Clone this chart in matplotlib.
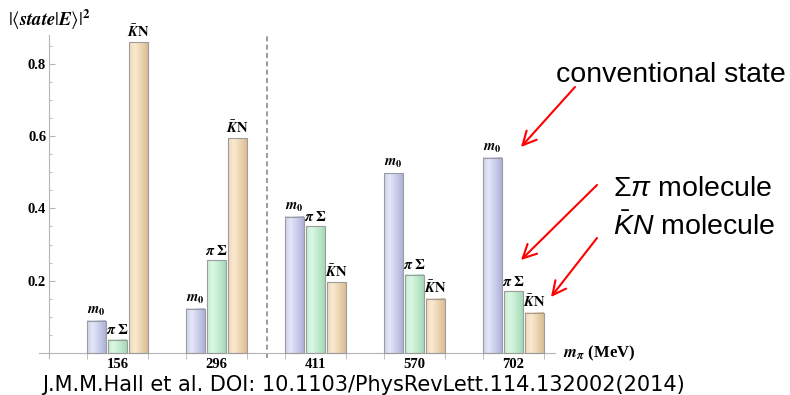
import matplotlib.pyplot as plt
import numpy as np
from matplotlib.patches import Rectangle, FancyArrowPatch
from matplotlib.ticker import MultipleLocator

plt.rcParams['mathtext.fontset'] = 'custom'
plt.rcParams['mathtext.rm'] = 'Liberation Sans'
plt.rcParams['mathtext.it'] = 'Liberation Sans:italic'

# weights |<state|E>|^2 for each pion mass
mpi = ['156', '296', '411', '570', '702']
m0 = [0.089, 0.122, 0.377, 0.498, 0.540]
pi_sigma = [0.037, 0.256, 0.351, 0.217, 0.171]
kbar_n = [0.860, 0.594, 0.196, 0.150, 0.111]

bar_labels = [r'$\mathbfit{m}_{\mathbf{0}}$',
              r'$\mathbfit{\pi}\ \mathbf{\Sigma}$',
              r'$\bar{\mathbfit{K}}\mathbf{N}$']
# (dark, light) colours for the shaded bars
bar_colors = [((168, 172, 214), (228, 230, 249)),
              ((158, 214, 178), (218, 248, 228)),
              ((214, 184, 140), (251, 234, 208))]

gray = '#b4b4b4'
serif_bold = dict(fontfamily='Liberation Serif', fontweight='bold')


def gradient(dark, light, n=64):
    t = np.linspace(0, 1, n)
    f = np.clip(1 - np.abs(t - 0.3) / 0.75, 0, 1) ** 0.9
    dark = np.array(dark) / 255
    light = np.array(light) / 255
    return (dark[None, :] * (1 - f[:, None]) + light[None, :] * f[:, None])[None, :, :]


fig = plt.figure(figsize=(7.9, 3.95), dpi=100)
ax = fig.add_axes([49 / 790, 37 / 395, 506 / 790, 323 / 395])

x = np.arange(len(mpi))
width = 0.19
step = 0.212
for k, vals in enumerate([m0, pi_sigma, kbar_n]):
    grad = gradient(*bar_colors[k])
    for xi, v in zip(x, vals):
        x0 = xi + (k - 1) * step - width / 2
        ax.imshow(grad, extent=[x0, x0 + width, 0, v], aspect='auto',
                  interpolation='bilinear', zorder=2)
        ax.add_patch(Rectangle((x0, 0), width, v, fill=False,
                               edgecolor='#9c9c9c', lw=0.8, zorder=3))
        ax.text(x0 + width / 2, v + 0.007, bar_labels[k], ha='center',
                va='bottom', fontsize=10.5, math_fontfamily='stix')

ax.set_xlim(-0.69, 4.42)
ax.set_ylim(-0.014, 0.88)

# axes in the Mathematica style
for s in ['top', 'right']:
    ax.spines[s].set_visible(False)
ax.spines['bottom'].set_position(('data', 0))
for s in ['bottom', 'left']:
    ax.spines[s].set_color(gray)
    ax.spines[s].set_linewidth(0.8)
ax.plot([-0.79, -0.69], [0, 0], color=gray, lw=0.8, clip_on=False)

ax.set_xticks(x)
ax.set_xticklabels(mpi, fontsize=10.5, **serif_bold)
edges = np.concatenate([x - step - width / 2, x + step + width / 2])
ax.set_xticks(edges, minor=True)
ax.tick_params(axis='x', which='major', length=0, pad=4)
ax.tick_params(axis='x', which='minor', length=4, direction='out', color=gray)

ax.set_yticks([0.2, 0.4, 0.6, 0.8])
ax.set_yticklabels(['0.2', '0.4', '0.6', '0.8'], fontsize=10.5, **serif_bold)
ax.yaxis.set_minor_locator(MultipleLocator(0.05))
ax.tick_params(axis='y', which='major', direction='in', length=4, color=gray, pad=2)
ax.tick_params(axis='y', which='minor', direction='in', length=2.5, color=gray)

ax.axvline(1.51, color='#8a8a8a', ls=(0, (3, 2)), lw=1.2)

fig.text(8 / 790, 1 - 20 / 395, r'$|\langle \mathbfit{state}|\mathbfit{E}\rangle|^{\mathbf{2}}$',
         fontsize=13.5, math_fontfamily='stix', va='center', ha='left')
fig.text(563 / 790, 1 - 353 / 395, r'$\mathbfit{m}_{\mathbfit{\pi}}$ (MeV)',
         fontsize=12, math_fontfamily='stix', va='center', ha='left', **serif_bold)

# explanatory notes with arrows
fig.text(556 / 790, 1 - 81.7 / 395, 'conventional state', fontsize=20.5,
         fontfamily='Liberation Sans', va='baseline')
fig.text(613 / 790, 1 - 195.7 / 395, r'$\Sigma\pi$ molecule', fontsize=20.5,
         fontfamily='Liberation Sans', va='baseline')
fig.text(613 / 790, 1 - 235 / 395, r'$\bar{K}N$ molecule', fontsize=20.5,
         fontfamily='Liberation Sans', va='baseline')

arrows = [((575, 87), (521, 147)),
          ((597, 185), (521, 260)),
          ((597, 238), (551, 297))]
for (xa, ya), (xb, yb) in arrows:
    fig.add_artist(FancyArrowPatch((xa / 790, 1 - ya / 395), (xb / 790, 1 - yb / 395),
                                   transform=fig.transFigure, color='red', lw=1.5,
                                   arrowstyle='->,head_length=0.7,head_width=0.35',
                                   mutation_scale=14, shrinkA=0, shrinkB=0))

fig.text(42 / 790, 1 - 391 / 395,
         'J.M.M.Hall et al. DOI: 10.1103/PhysRevLett.114.132002(2014)',
         fontsize=15, fontfamily='DejaVu Sans', va='baseline')

fig.savefig('out.png', dpi=100)
